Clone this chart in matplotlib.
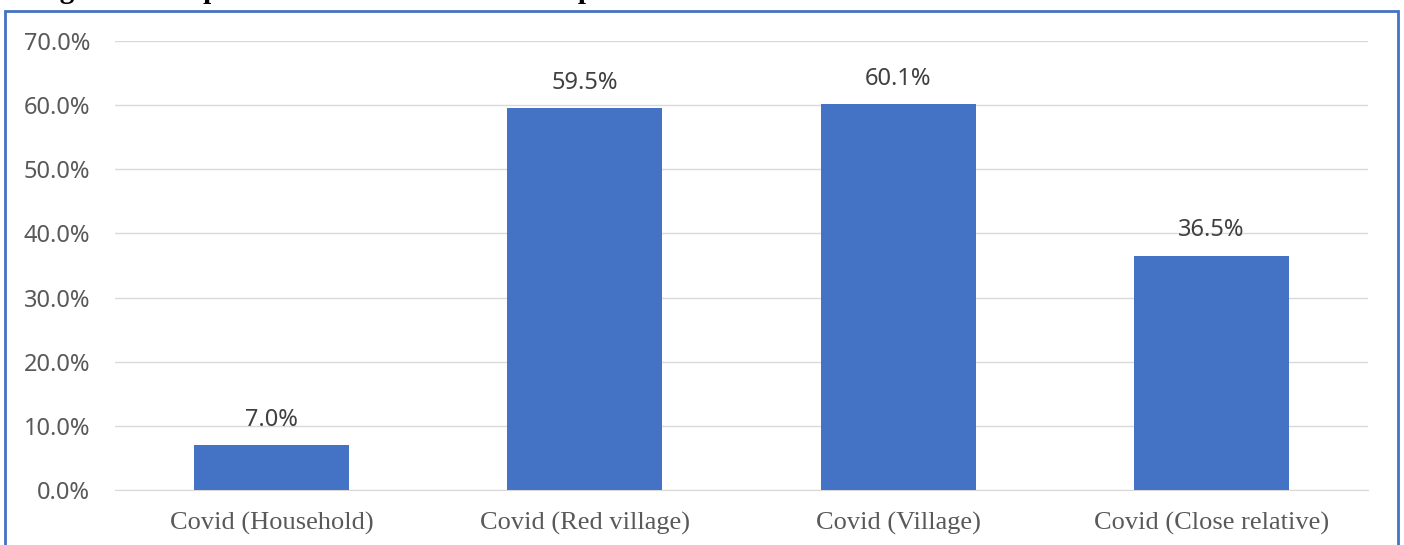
import matplotlib.pyplot as plt
from matplotlib.patches import Rectangle

# data
categories = ["Covid (Household)", "Covid (Red village)", "Covid (Village)", "Covid (Close relative)"]
values = [7.0, 59.5, 60.1, 36.5]
yticks = [0, 10, 20, 30, 40, 50, 60, 70]

fig = plt.figure(figsize=(14.04, 5.45), dpi=100)
ax = fig.add_axes([0.0819, 0.1009, 0.8925, 0.8239])

# caption above the frame, cut off by the top edge as in the source
fig.text(34 / 1404, 1 + 2 / 545, "Figure 10: Reported Covid Incidence of Respondents",
         family="Liberation Serif", fontweight="bold", fontsize=21, va="baseline", ha="left")

# outer frame
fig.patches.append(Rectangle((5 / 1404, -0.05), 1393 / 1404, 1.05 - 11 / 545,
                             transform=fig.transFigure, fill=False,
                             edgecolor="#4472C4", linewidth=2, clip_on=False))

x = range(len(categories))
ax.bar(x, values, width=0.495, color="#4472C4", zorder=3)
for xi, v in zip(x, values):
    ax.text(xi, v + 2.1, f"{v:.1f}%", ha="center", va="bottom",
            family="Noto Sans", fontsize=17, color="#404040")

ax.set_xlim(-0.5, len(categories) - 0.5)
ax.set_ylim(0, 70)
ax.set_yticks(yticks)
ax.set_yticklabels([f"{t:.1f}%" for t in yticks], family="Noto Sans", fontsize=17, color="#595959")
ax.set_xticks(list(x))
ax.set_xticklabels(categories, family="Liberation Serif", fontsize=19, color="#595959")
ax.tick_params(axis="both", length=0)
ax.tick_params(axis="y", pad=18)
ax.tick_params(axis="x", pad=16)
ax.grid(axis="y", color="#D9D9D9", linewidth=1, zorder=0)
for s in ["top", "right", "left"]:
    ax.spines[s].set_visible(False)
ax.spines["bottom"].set_color("#D9D9D9")

fig.savefig("out.png", dpi=100)
